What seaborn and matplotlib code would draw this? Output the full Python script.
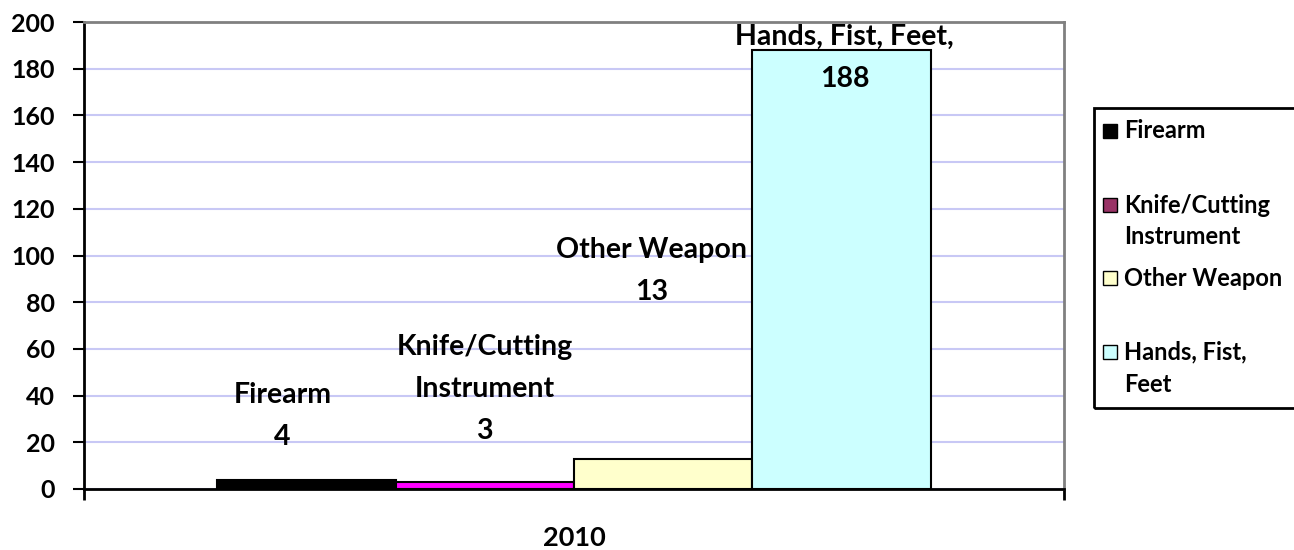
import pandas as pd
import matplotlib.pyplot as plt
from matplotlib.patches import Rectangle
import seaborn as sns

# values
year = "2010"
weapons = ["Firearm", "Knife/Cutting Instrument", "Other Weapon", "Hands, Fist, Feet"]
counts = [4, 3, 13, 188]
bar_labels = ["Firearm", "Knife/Cutting\nInstrument", "Other Weapon", "Hands, Fist, Feet,"]
legend_labels = ["Firearm", "Knife/Cutting\nInstrument", "Other Weapon", "Hands, Fist,\nFeet"]
yticks = list(range(0, 201, 20))

bar_colors = ["#000000", "#FF00FF", "#FFFFCC", "#CCFFFF"]
legend_colors = ["#000000", "#993366", "#FFFFCC", "#CCFFFF"]

sns.set_style("white")
# seaborn greys the text, the original is plain black
plt.rcParams.update({
    "font.family": ["Lato", "DejaVu Sans"],
    "font.weight": "bold",
    "text.color": "black",
    "axes.labelcolor": "black",
    "xtick.color": "black",
    "ytick.color": "black",
})

df = pd.DataFrame({"year": [year] * len(weapons), "weapon": weapons, "count": counts})

W, H = 1294, 550
fig = plt.figure(figsize=(W / 100, H / 100), dpi=100)
ax = fig.add_axes([84 / W, 1 - 489 / H, (1064 - 84) / W, (489 - 22) / H])

sns.barplot(data=df, x="year", y="count", hue="weapon", palette=bar_colors,
            saturation=1, width=0.728, edgecolor="black", linewidth=1.5,
            legend=False, ax=ax)

ax.set_xlim(-0.5, 0.5)
ax.set_ylim(0, 200)
ax.set_yticks(yticks)
ax.set_yticklabels([str(t) for t in yticks], fontsize=18, fontweight="bold")
ax.tick_params(axis="y", direction="out", length=8, width=1.5, pad=13, left=True)
ax.set_xticks([-0.5, 0.5], ["", ""])
ax.tick_params(axis="x", direction="out", length=8, width=2, bottom=True)
ax.set_xlabel("2010", fontsize=19.5, fontweight="bold", labelpad=15)
ax.set_ylabel("")

ax.grid(axis="y", color="#C8C8F5", linewidth=1.5)
ax.set_axisbelow(True)
for side in ["left", "bottom"]:
    ax.spines[side].set_color("black")
    ax.spines[side].set_linewidth(2)
for side in ["top", "right"]:
    ax.spines[side].set_visible(True)
    ax.spines[side].set_color("#808080")
    ax.spines[side].set_linewidth(2)

# data labels, offsets in pixels from the bar top (Excel put them unevenly)
label_offsets = [(-24, 64), (0, 93), (-12, 188), (3, -8)]
for bar, name, val, (dx, dy) in zip(ax.patches, bar_labels, counts, label_offsets):
    cx = bar.get_x() + bar.get_width() / 2
    ax.annotate(f"{name}\n{val}", (cx, bar.get_height()),
                xytext=(dx * 0.72, dy * 0.72), textcoords="offset points",
                ha="center", va="center", fontsize=20.5, fontweight="bold",
                linespacing=1.75)

# legend box, clipped at the right edge like the original
fig.patches.append(Rectangle((1094 / W, 1 - 408 / H), (1310 - 1094) / W, 300 / H,
                             transform=fig.transFigure, fill=False,
                             edgecolor="black", linewidth=2))
legend_y = [131, 205, 278, 352]
for lab, col, y in zip(legend_labels, legend_colors, legend_y):
    fig.patches.append(Rectangle((1103 / W, 1 - (y + 7) / H), 14 / W, 14 / H,
                                 transform=fig.transFigure, facecolor=col,
                                 edgecolor="black", linewidth=1))
    for i, line in enumerate(lab.split("\n")):
        fig.text(1124 / W, 1 - (y + 32 * i) / H, line, ha="left", va="center",
                 fontsize=17, fontweight="bold")

fig.savefig("out.png", dpi=100)
